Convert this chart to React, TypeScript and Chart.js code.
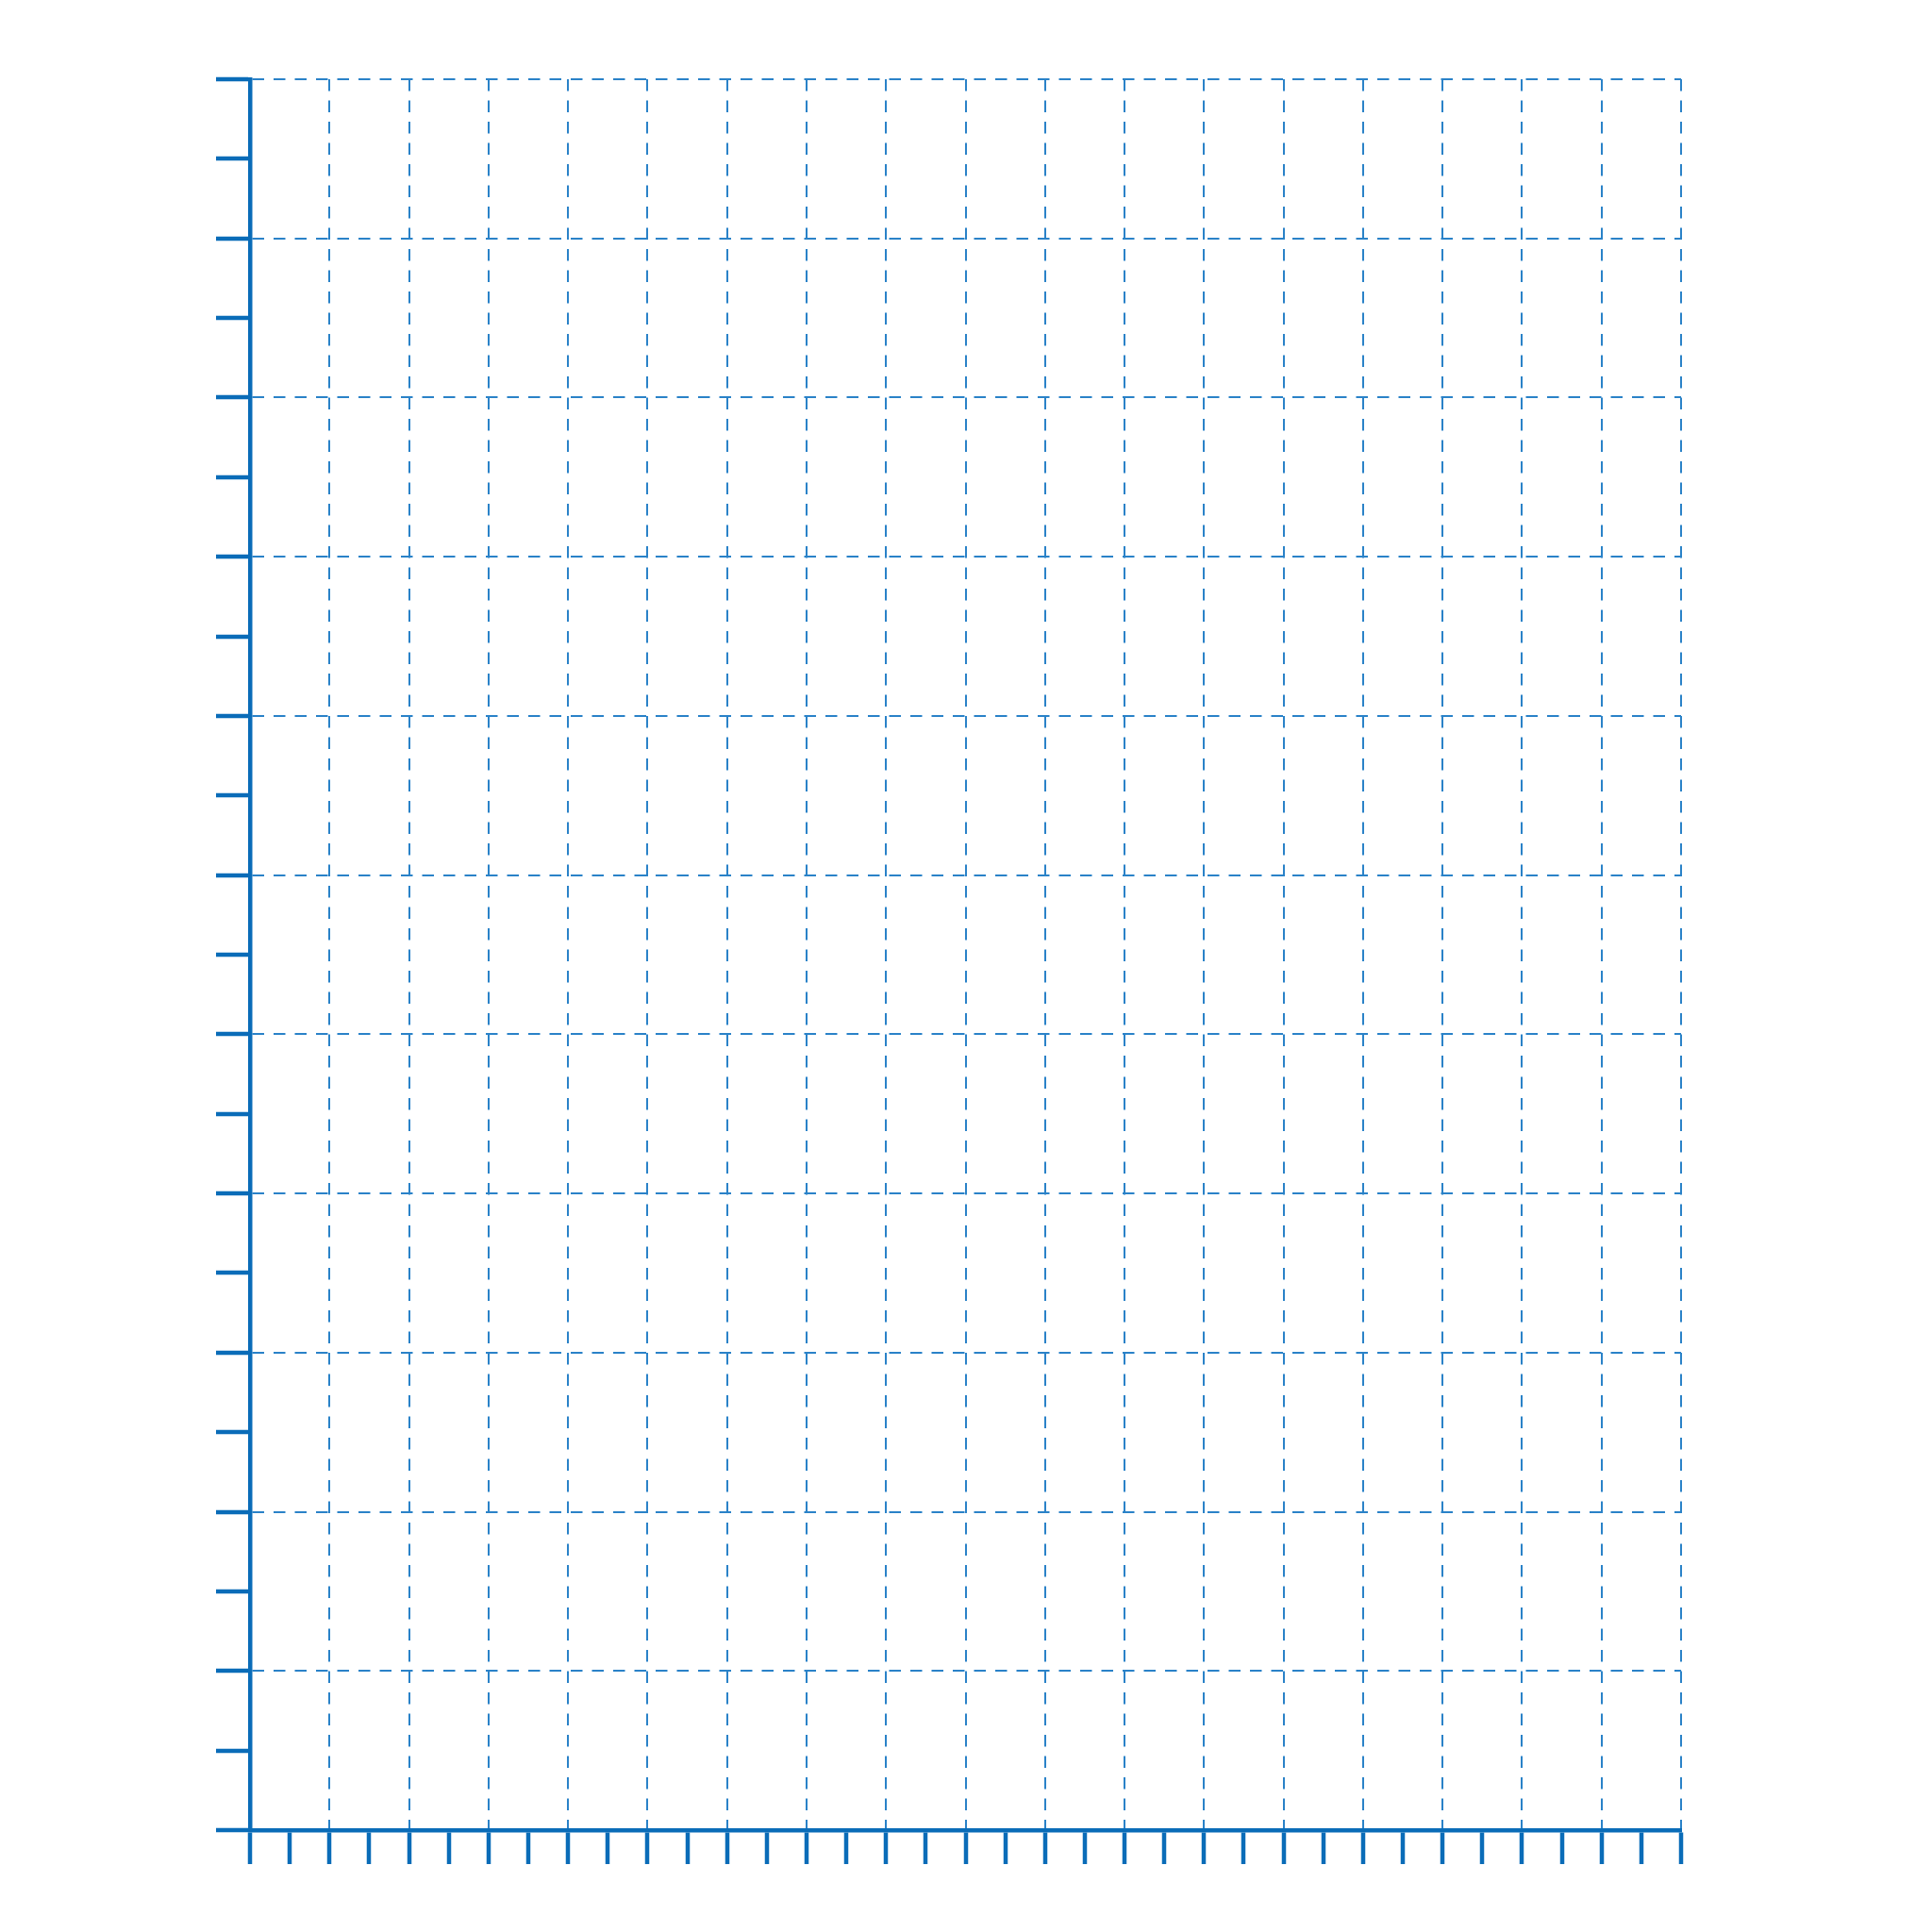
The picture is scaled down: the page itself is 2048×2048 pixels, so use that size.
import { useEffect, useRef } from "react"
import { Chart, registerables } from "chart.js"

Chart.register(...registerables)

// axis ranges: ticks every unit, grid lines every second unit
const xRange = [0, 36]
const yRange = [0, 22]
const gridEvery = 2

// the reference holds no marks, only the empty grid
const seriesPoints: { x: number; y: number }[] = []

const AXIS_COLOR = "#0a6cb8"
const GRID_COLOR = "#2a82c8"

export default function App() {
  const chartRef = useRef<HTMLCanvasElement>(null)
  const chartInstance = useRef<Chart | null>(null)

  useEffect(() => {
    const canvas = chartRef.current
    if (!canvas) return

    if (chartInstance.current) {
      chartInstance.current.destroy()
    }

    // grid only on every second tick, tick marks on all of them
    const gridColor = (ctx: any) =>
      ctx.tick && ctx.tick.value % gridEvery === 0 ? GRID_COLOR : "rgba(0,0,0,0)"

    const axis = (min: number, max: number) => ({
      type: "linear" as const,
      min,
      max,
      ticks: { display: false, stepSize: 1 },
      grid: {
        color: gridColor,
        lineWidth: 2,
        tickColor: AXIS_COLOR,
        tickWidth: 4.5,
        tickLength: 36,
      },
      border: { color: AXIS_COLOR, width: 4.5, dash: [12.5, 10] },
    })

    chartInstance.current = new Chart(canvas, {
      type: "scatter",
      data: {
        datasets: [{ label: "series", data: seriesPoints }],
      },
      options: {
        animation: false,
        responsive: true,
        maintainAspectRatio: false,
        layout: { padding: { left: 229, top: 84, right: 266, bottom: 72 } },
        plugins: {
          legend: { display: false },
          tooltip: { enabled: false },
        },
        scales: {
          x: axis(xRange[0], xRange[1]),
          y: axis(yRange[0], yRange[1]),
        },
      },
    })

    return () => {
      if (chartInstance.current) {
        chartInstance.current.destroy()
        chartInstance.current = null
      }
    }
  }, [])

  return (
    <div style={{ position: "fixed", left: 0, top: 0, width: 2048, height: 2048, background: "#fff" }}>
      <canvas ref={chartRef} />
    </div>
  )
}
